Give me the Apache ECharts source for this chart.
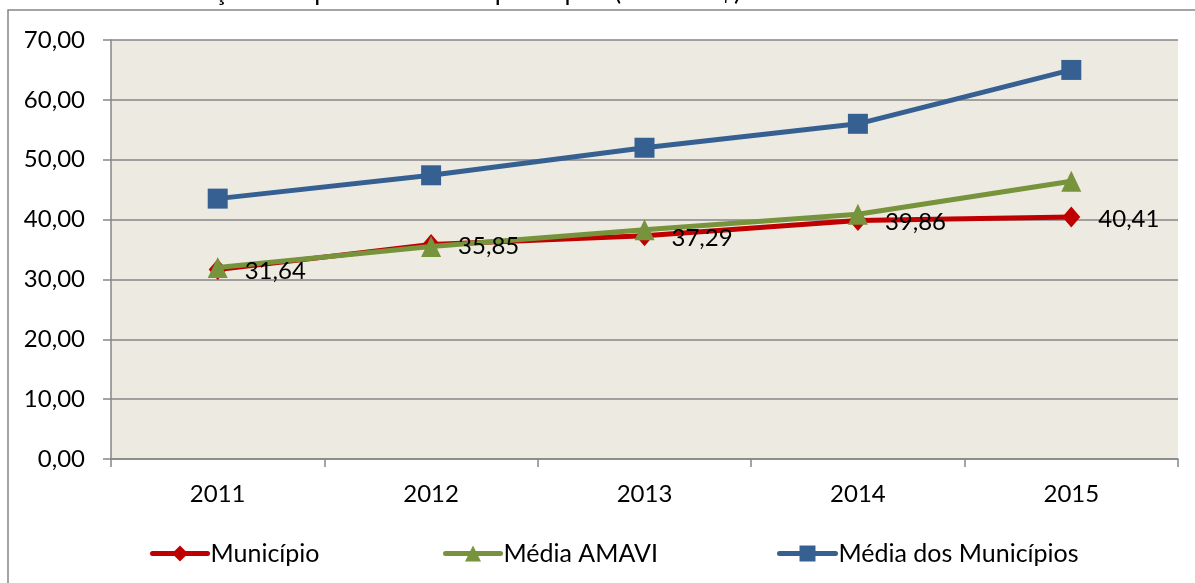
<!DOCTYPE html>
<html>
<head>
<meta charset="utf-8">
<style>
html,body{margin:0;padding:0;background:#fff;}
#chart{width:1195px;height:583px;}
</style>
<script src="https://cdn.jsdelivr.net/npm/echarts@6/dist/echarts.min.js"></script>
</head>
<body>
<div id="chart"></div>
<script>
const titleText = 'Gráfico 10 - Evolução Comparativa do PIB per capita (em mil R$) - 2011 a 2015';
const categories = ['2011', '2012', '2013', '2014', '2015'];
const municipio = [31.64, 35.85, 37.29, 39.86, 40.41];
const mediaAmavi = [32.0, 35.5, 38.3, 40.9, 46.4];
const mediaMunicipios = [43.5, 47.4, 52.0, 56.0, 65.0];
const yTicks = { min: 0, max: 70, interval: 10 };

const FONT = 'Lato, "Open Sans", sans-serif';
const fmt = v => Number(v).toFixed(2).replace('.', ',');

const chart = echarts.init(document.getElementById('chart'), null, { renderer: 'canvas' });

const legendBase = {
  top: 541,
  padding: 0,
  itemHeight: 20,
  textStyle: { fontFamily: FONT, fontSize: 25, color: '#000', lineHeight: 24, padding: [0, 0, 0, -2] },
  lineStyle: { width: 5, cap: 'round' },
  selectedMode: false
};

chart.setOption({
  animation: false,
  backgroundColor: '#ffffff',
  title: {
    text: titleText,
    left: 4,
    top: -28,
    textStyle: { fontFamily: FONT, fontSize: 26, fontWeight: 'normal', color: '#000', lineHeight: 30 }
  },
  graphic: [{
    type: 'rect',
    shape: { x: 8, y: 10, width: 1200, height: 600 },
    style: { fill: 'none', stroke: '#878787', lineWidth: 1.5 },
    silent: true,
    z: -1
  }],
  grid: {
    left: 111, right: 17, top: 40, bottom: 124,
    show: true, backgroundColor: '#EDEBE1', borderWidth: 0
  },
  legend: [
    Object.assign({}, legendBase, { data: ['Município'], left: 150, itemWidth: 55 }),
    Object.assign({}, legendBase, { data: ['Média AMAVI'], left: 443, itemWidth: 55 }),
    Object.assign({}, legendBase, { data: ['Média dos Municípios'], left: 777, itemWidth: 56 })
  ],
  xAxis: {
    type: 'category',
    data: categories,
    boundaryGap: true,
    axisLine: { lineStyle: { color: '#868686', width: 1.5 } },
    axisTick: { show: true, length: 8, lineStyle: { color: '#868686', width: 1.5 } },
    axisLabel: { fontFamily: FONT, fontSize: 24, color: '#000', margin: 23 },
    splitLine: { show: false }
  },
  yAxis: {
    type: 'value',
    min: yTicks.min, max: yTicks.max, interval: yTicks.interval,
    axisLine: { show: true, lineStyle: { color: '#868686', width: 1.5 } },
    axisTick: { show: true, length: 8, lineStyle: { color: '#868686', width: 1.5 } },
    axisLabel: { fontFamily: FONT, fontSize: 24, color: '#000', margin: 26, formatter: fmt },
    splitLine: { show: true, lineStyle: { color: '#868686', width: 1.5 } }
  },
  series: [
    {
      name: 'Município',
      type: 'line',
      data: municipio,
      color: '#C00000',
      lineStyle: { color: '#C00000', width: 5 },
      itemStyle: { color: '#C00000' },
      symbol: 'diamond',
      symbolSize: [18, 21],
      z: 2
    },
    {
      name: 'Média AMAVI',
      type: 'line',
      data: mediaAmavi,
      color: '#77933C',
      lineStyle: { color: '#77933C', width: 5 },
      itemStyle: { color: '#77933C' },
      symbol: 'triangle',
      symbolSize: [20, 21],
      z: 3
    },
    {
      name: 'Média dos Municípios',
      type: 'line',
      data: mediaMunicipios,
      color: '#376092',
      lineStyle: { color: '#376092', width: 5 },
      itemStyle: { color: '#376092' },
      symbol: 'rect',
      symbolSize: [20, 20],
      z: 4
    },
    {
      // labels for Município drawn above all lines
      name: 'Município (rótulos)',
      type: 'line',
      data: municipio,
      silent: true,
      lineStyle: { width: 0, color: 'rgba(0,0,0,0)' },
      itemStyle: { color: 'rgba(0,0,0,0)', borderWidth: 0 },
      symbol: 'rect',
      symbolSize: [18, 21],
      z: 10,
      label: {
        show: true,
        position: 'right',
        distance: 18,
        offset: [0, 2],
        fontFamily: FONT,
        fontSize: 24,
        color: '#000',
        formatter: p => fmt(p.value)
      }
    }
  ]
});
</script>
</body>
</html>
